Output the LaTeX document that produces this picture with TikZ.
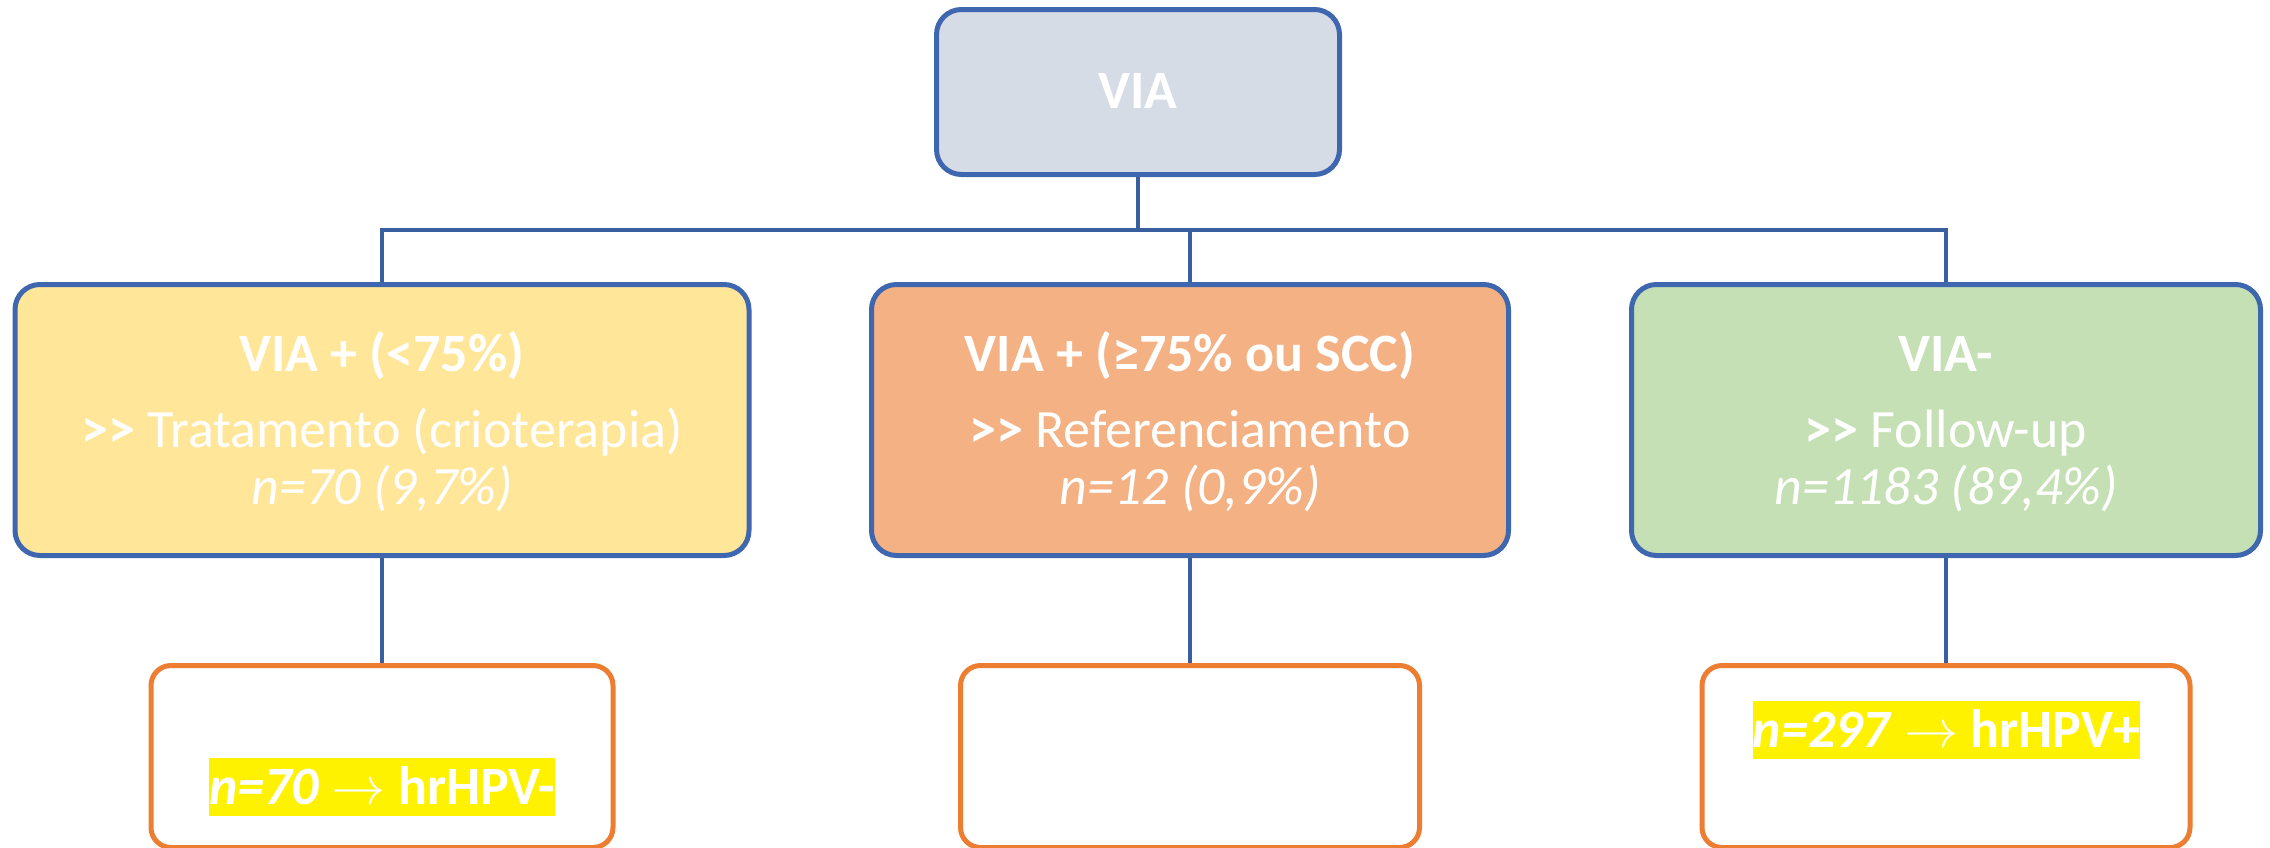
\documentclass[tikz,border=0pt]{standalone}
\usepackage{fontspec}
\usepackage{unicode-math}
\setmainfont{Carlito}
\setmathfont{Latin Modern Math}
\definecolor{boxblue}{HTML}{3F67B0}
\definecolor{lineblue}{HTML}{395F9F}
\definecolor{topfill}{HTML}{D6DCE5}
\definecolor{goldfill}{HTML}{FFE699}
\definecolor{orangefill}{HTML}{F4B183}
\definecolor{greenfill}{HTML}{C5E0B4}
\definecolor{outorange}{HTML}{ED7D31}
\begin{document}
\begin{tikzpicture}[x=1pt,y=-1pt,
  box/.style={draw=boxblue, line width=5pt, rounded corners=25pt, inner sep=0pt, shape=rectangle},
  lvlbox/.style={box, minimum height=271pt},
  outbox/.style={draw=outorange, fill=white, line width=5pt, rounded corners=20pt, inner sep=0pt, minimum height=182pt},
  conn/.style={draw=lineblue, line width=4.5pt},
  txt/.style={text=white, anchor=base, inner sep=0pt, font=\fontsize{54}{60}\selectfont},
  hl/.style={txt, fill=yellow, text height=46pt, text depth=12pt}]
\useasboundingbox (0,0) rectangle (2270,847);
\clip (0,0) rectangle (2270,847);

% boxes
\node[box, fill=topfill, minimum width=403pt, minimum height=165pt] (top) at (1138,92) {};
\node[lvlbox, fill=goldfill, minimum width=734pt] (lbox) at (382,420) {};
\node[lvlbox, fill=orangefill, minimum width=637pt] (mbox) at (1190,420) {};
\node[lvlbox, fill=greenfill, minimum width=629pt] (rbox) at (1946,420) {};
\node[outbox, minimum width=462pt] (lout) at (382,756.5) {};
\node[outbox, minimum width=459pt] (mout) at (1190,756.5) {};
\node[outbox, minimum width=488pt] (rout) at (1946,756.5) {};

% connectors
\coordinate (bus) at (1138,230);
\draw[conn] (top.south) -- (bus);
\draw[conn] (lbox.north) -- (lbox.north |- bus) -- (rbox.north |- bus) -- (rbox.north);
\draw[conn] (mbox.north) -- (mbox.north |- bus);
\draw[conn] (lbox.south) -- (lout.north);
\draw[conn] (mbox.south) -- (mout.north);
\draw[conn] (rbox.south) -- (rout.north);

% texts
\node[txt] (ttop) at (1138,108) {\textbf{VIA}};

\node[txt] (l1) at (382,371) {\textbf{VIA + (<75\%)}};
\node[txt] (l2) at (382,447) {\textbf{>\kern0pt>} Tratamento (crioterapia)};
\node[txt] (l3) at (382,504) {\textit{n=70 (9,7\%)}};

\node[txt] (m1) at (1190,371) {\textbf{VIA + (≥75\% ou SCC)}};
\node[txt] (m2) at (1190,447) {\textbf{>\kern0pt>} Referenciamento};
\node[txt] (m3) at (1190,504) {\textit{n=12 (0,9\%)}};

\node[txt] (r1) at (1946,371) {\textbf{VIA-}};
\node[txt] (r2) at (1946,447) {\textbf{>\kern0pt>} Follow-up};
\node[txt] (r3) at (1946,504) {\textit{n=1183 (89,4\%)}};

\node[hl] (lhl) at (382,804) {\textbf{\textit{n=70}} $\rightarrow$ \textbf{hrHPV-}};
\node[hl] (rhl) at (1946.5,747) {\textbf{\textit{n=297}} $\rightarrow$ \textbf{hrHPV+}};
\end{tikzpicture}
\end{document}
